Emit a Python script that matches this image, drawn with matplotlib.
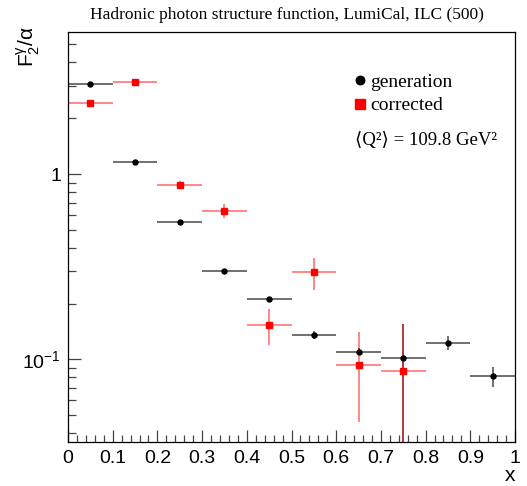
import numpy as np
import matplotlib
matplotlib.use("Agg")
import matplotlib.pyplot as plt
from matplotlib.ticker import FixedLocator, FixedFormatter, LogLocator, NullFormatter, MultipleLocator

#------------- DATA -------------#
x_bins = [0.05, 0.15, 0.25, 0.35, 0.45, 0.55, 0.65, 0.75, 0.85, 0.95]
x_half = 0.05

gen_y = [3.07, 1.16, 0.55, 0.30, 0.211, 0.135, 0.110, 0.102, 0.123, 0.081]
gen_err_lo = [0.05, 0.02, 0.012, 0.006, 0.005, 0.007, 0.005, 0.102, 0.011, 0.010]
gen_err_hi = [0.05, 0.02, 0.012, 0.006, 0.005, 0.007, 0.005, 0.054, 0.011, 0.010]

corr_x = [0.05, 0.15, 0.25, 0.35, 0.45, 0.55, 0.65, 0.75]
corr_y = [2.41, 3.12, 0.875, 0.634, 0.154, 0.295, 0.093, 0.087]
corr_err = [0.06, 0.08, 0.045, 0.055, 0.034, 0.057, 0.047, 0.069]

x_ticks = [0, 0.1, 0.2, 0.3, 0.4, 0.5, 0.6, 0.7, 0.8, 0.9, 1.0]
x_ticklabels = ["0", "0.1", "0.2", "0.3", "0.4", "0.5", "0.6", "0.7", "0.8", "0.9", "1"]

#------------- STYLE -------------#
plt.rcParams["font.family"] = ["Liberation Sans", "DejaVu Sans"]
plt.rcParams["mathtext.fontset"] = "custom"
plt.rcParams["mathtext.rm"] = "Liberation Sans"
plt.rcParams["mathtext.it"] = "Liberation Sans"
plt.rcParams["mathtext.default"] = "regular"

fig = plt.figure(figsize=(5.27, 4.86), dpi=100)
ax = fig.add_axes([68 / 527, 44 / 486, 447 / 527, 410 / 486])

# error bars (black first, red on top)
ax.errorbar(x_bins, gen_y, xerr=x_half, yerr=[gen_err_lo, gen_err_hi], fmt="none",
            ecolor="#3a3a3a", elinewidth=1.2, capsize=0, alpha=0.85)
ax.errorbar(corr_x, corr_y, xerr=x_half, yerr=corr_err, fmt="none",
            ecolor=(1, 0, 0, 0.55), elinewidth=1.2, capsize=0)

ax.plot(x_bins, gen_y, "o", color="black", markersize=3.6, linestyle="none",
        label="generation")
ax.plot(corr_x, corr_y, "s", color="red", markersize=4.2, linestyle="none",
        label="corrected")

ax.set_yscale("log")
ax.set_xlim(0, 1)
ax.set_ylim(0.0358, 5.84)

ax.xaxis.set_major_locator(FixedLocator(x_ticks))
ax.xaxis.set_major_formatter(FixedFormatter(x_ticklabels))
ax.xaxis.set_minor_locator(MultipleLocator(0.02))

ax.yaxis.set_major_locator(FixedLocator([0.1, 1.0]))
ax.yaxis.set_major_formatter(FixedFormatter(["$10^{-1}$", "1"]))
ax.yaxis.set_minor_locator(LogLocator(base=10, subs=np.arange(2, 10)))
ax.yaxis.set_minor_formatter(NullFormatter())

ax.tick_params(axis="both", which="both", direction="in", top=False, right=False,
               labelsize=14, width=0.9, color="#444444")
ax.tick_params(axis="x", which="major", length=9, pad=6)
ax.tick_params(axis="x", which="minor", length=5)
ax.tick_params(axis="y", which="major", length=9.5, pad=5)
ax.tick_params(axis="y", which="minor", length=5.5)
for sp in ax.spines.values():
    sp.set_linewidth(0.9)

leg = ax.legend(loc="upper left", bbox_to_anchor=(0.622, 0.918), frameon=False,
                prop={"family": "Liberation Serif", "size": 14},
                handlelength=0.6, handletextpad=0.25, labelspacing=0.3,
                markerscale=1.7, borderaxespad=0)

ax.text(0.641, 0.735, "\u27e8Q\u00b2\u27e9 = 109.8 GeV\u00b2", transform=ax.transAxes,
        family=["Liberation Serif", "DejaVu Serif"], fontsize=13.5, ha="left", va="center")

fig.text(287 / 527, 1 - 15 / 486, "Hadronic photon structure function, LumiCal, ILC (500)",
         family="Liberation Serif", fontsize=12.5, ha="center", va="center")

fig.text(28 / 527, 1 - 26 / 486, r"$F_2^{\gamma}/\alpha$", rotation=90,
         fontsize=15, ha="center", va="top")
fig.text(510 / 527, 1 - 475 / 486, "x", fontsize=15, ha="center", va="center")

fig.savefig("out.png", dpi=100)
